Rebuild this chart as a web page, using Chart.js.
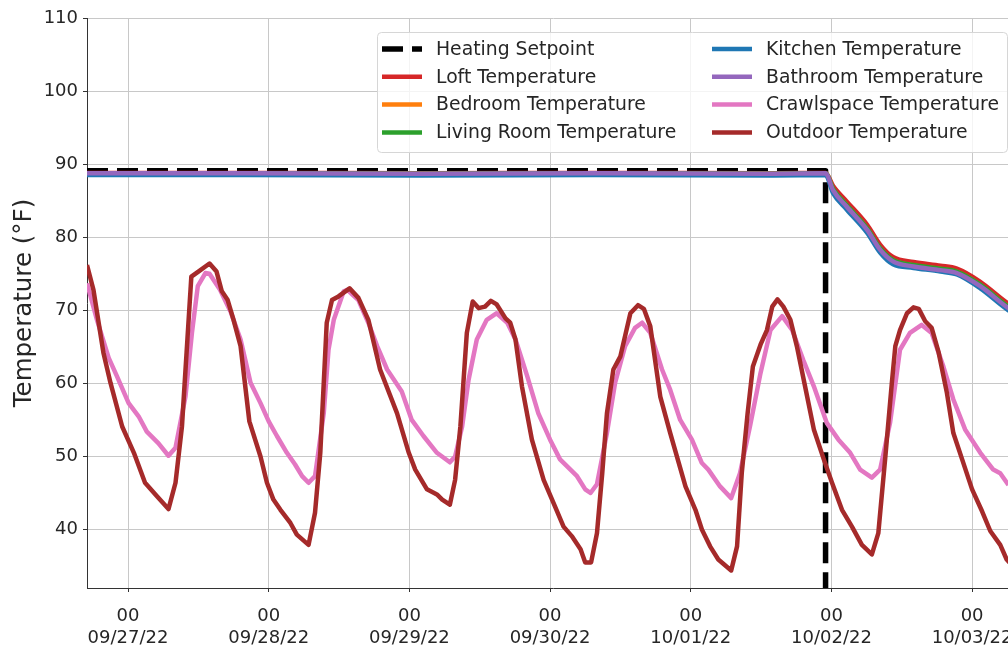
<!DOCTYPE html>
<html>
<head>
<meta charset="utf-8">
<script src="https://cdn.jsdelivr.net/npm/chart.js@4.4.1/dist/chart.umd.min.js"></script>
<style>
  html, body { margin: 0; padding: 0; background: #fff; overflow: hidden; width: 1008px; height: 647px; }
  #wrap { position: absolute; left: 0; top: 0; width: 1040px; height: 647px; }
</style>
</head>
<body>
<div id="wrap"><canvas id="myChart" width="1040" height="647"></canvas></div>
<script>
// x values are hours counted from 09/27/22 00:00
const tickHours = [0, 24, 48, 72, 96, 120, 144];
const tickDates = ['09/27/22', '09/28/22', '09/29/22', '09/30/22', '10/01/22', '10/02/22', '10/03/22'];
const yTicks = [40, 50, 60, 70, 80, 90, 100, 110];

const seriesNames = [
  'Heating Setpoint', 'Loft Temperature', 'Bedroom Temperature', 'Living Room Temperature',
  'Kitchen Temperature', 'Bathroom Temperature', 'Crawlspace Temperature', 'Outdoor Temperature'
];
const seriesColors = ['#000000', '#d62728', '#ff7f0e', '#2ca02c', '#1f77b4', '#9467bd', '#e377c2', '#a52a2a'];

// heating setpoint (turned off on 10/02)
const setpointHours = [-7, 119.0, 119.0, 152];
const setpointTemps = [89.1, 89.1, 20, 20];

// indoor rooms
const indoorHours = [-7, 20, 50, 80, 110, 119.0, 120.3, 122.6, 126.1, 128.3, 130.5, 134.0, 138.6, 141.4, 145.4, 150.2, 152];
const loftTemps     = [88.8, 88.8, 88.75, 88.8, 88.75, 88.8, 87.0, 84.9, 81.7, 79.0, 77.3, 76.6, 76.1, 75.7, 73.9, 70.9, 70.1];
const bedroomTemps  = [88.75, 88.75, 88.7, 88.75, 88.7, 88.75, 86.55, 84.35, 81.15, 78.45, 76.85, 76.15, 75.65, 75.25, 73.45, 70.45, 69.65];
const livingTemps   = [88.75, 88.75, 88.7, 88.75, 88.7, 88.75, 86.6, 84.4, 81.2, 78.5, 76.9, 76.2, 75.7, 75.3, 73.5, 70.5, 69.7];
const kitchenTemps  = [88.5, 88.5, 88.45, 88.5, 88.45, 88.5, 86.0, 83.8, 80.6, 77.9, 76.3, 75.8, 75.3, 74.9, 73.0, 70.0, 69.2];
const bathroomTemps = [88.75, 88.75, 88.7, 88.75, 88.7, 88.75, 86.4, 84.2, 81.0, 78.3, 76.7, 76.0, 75.5, 75.1, 73.3, 70.3, 69.5];

// crawlspace
const crawlHours = [-7.0, -5.3, -3.3, -1.9, 0.1, 1.8, 3.2, 5.2, 6.9, 8.1, 9.8, 10.9, 11.9, 13.2, 13.9, 15.7, 17.5, 19.2, 20.9, 22.6,
  24.0, 25.4, 27.1, 28.5, 29.7, 30.8, 31.9, 33.4, 34.2, 35.1, 36.8, 37.4, 39.3, 41.0, 42.5, 44.2, 46.7, 48.4, 50.4, 52.7,
  54.9, 55.8, 57.0, 58.1, 59.5, 61.2, 62.9, 64.7, 66.1, 68.1, 70.0, 72.0, 73.7, 76.6, 78.0, 78.9, 80.0, 81.7, 83.1, 84.8,
  86.5, 87.7, 89.1, 91.1, 92.5, 94.2, 96.2, 97.9, 99.0, 101.0, 102.9, 104.4, 106.1, 107.9, 109.6, 111.6, 113.3, 115.2, 117.0, 119.2,
  121.2, 123.2, 124.9, 126.9, 128.3, 130.0, 131.7, 133.4, 135.4, 137.1, 139.1, 140.8, 142.8, 145.4, 147.6, 148.8, 150.2];
const crawlTemps = [73.7, 68.7, 63.5, 61.0, 57.3, 55.5, 53.4, 51.8, 50.1, 51.2, 58.2, 66.9, 73.3, 75.1, 75.0, 72.8, 69.8, 66.0, 60.1, 57.3,
  54.8, 52.8, 50.5, 48.9, 47.3, 46.4, 47.3, 56.0, 64.6, 68.7, 72.6, 72.8, 71.4, 68.3, 65.1, 61.9, 58.9, 55.0, 52.8, 50.5,
  49.2, 50.0, 54.1, 60.5, 66.0, 68.7, 69.6, 68.3, 66.0, 61.0, 55.9, 52.3, 49.6, 47.3, 45.5, 45.0, 46.2, 53.2, 60.1, 65.1,
  67.6, 68.3, 66.9, 61.9, 59.1, 55.0, 52.3, 49.1, 48.2, 45.9, 44.3, 47.7, 54.1, 61.4, 67.3, 69.2, 67.3, 63.2, 59.6, 54.6,
  52.3, 50.5, 48.2, 47.1, 48.2, 54.6, 64.6, 66.9, 68.0, 66.9, 62.3, 57.8, 53.7, 50.5, 48.2, 47.7, 46.1];

// outdoor
const outdoorHours = [-7.0, -5.9, -4.2, -3.0, -1.0, 1.0, 2.9, 4.9, 6.9, 8.1, 9.2, 10.8, 12.0, 13.9, 15.1, 16.0, 17.0, 18.0, 19.2, 20.7,
  22.6, 23.7, 24.8, 26.0, 27.7, 28.8, 30.8, 31.9, 32.8, 33.9, 34.8, 35.9, 37.8, 39.3, 41.0, 43.0, 45.9, 47.9, 49.0, 51.0,
  52.7, 53.6, 54.9, 55.8, 56.7, 57.8, 58.8, 59.8, 60.9, 61.9, 62.9, 64.4, 65.2, 66.1, 67.2, 68.9, 70.9, 72.6, 74.3, 75.7,
  77.2, 78.0, 79.0, 80.0, 80.9, 81.7, 82.8, 84.0, 85.7, 87.0, 88.0, 89.1, 90.8, 92.5, 95.1, 96.8, 97.9, 99.3, 100.7, 102.9,
  103.9, 104.7, 105.7, 106.6, 107.9, 109.0, 109.9, 110.8, 111.8, 113.0, 114.1, 115.5, 117.0, 118.7, 120.1, 121.8, 123.5, 125.2, 126.9, 128.0,
  129.2, 130.3, 130.9, 131.7, 132.9, 134.0, 134.9, 136.0, 137.1, 138.3, 139.7, 140.8, 142.3, 144.0, 145.7, 147.1, 148.8, 149.9, 150.6];
const outdoorTemps = [76.2, 72.8, 64.2, 60.1, 54.1, 50.5, 46.4, 44.6, 42.8, 46.4, 54.1, 74.6, 75.3, 76.4, 75.3, 72.6, 71.4, 68.7, 65.1, 54.8,
  50.0, 46.4, 44.1, 42.7, 40.9, 39.3, 37.9, 42.3, 50.5, 68.3, 71.4, 71.9, 73.0, 71.7, 68.7, 61.9, 55.9, 50.5, 48.2, 45.5,
  44.8, 44.1, 43.4, 46.8, 54.1, 66.9, 71.2, 70.3, 70.5, 71.3, 70.8, 68.9, 68.3, 66.0, 59.6, 52.3, 46.8, 43.6, 40.4, 39.1,
  37.3, 35.5, 35.5, 39.5, 47.7, 55.9, 61.9, 63.7, 69.6, 70.7, 70.2, 67.8, 58.2, 53.2, 45.9, 42.7, 40.0, 37.7, 35.9, 34.4,
  37.7, 47.7, 55.9, 62.3, 65.3, 67.3, 70.5, 71.5, 70.5, 68.7, 65.1, 59.6, 53.7, 49.6, 46.4, 42.7, 40.4, 37.9, 36.6, 39.5,
  50.0, 60.0, 65.1, 67.3, 69.6, 70.4, 70.2, 68.5, 67.6, 64.2, 58.7, 53.2, 49.6, 45.5, 42.5, 39.8, 37.9, 35.9, 35.3];

const seriesHours = [setpointHours, indoorHours, indoorHours, indoorHours, indoorHours, indoorHours, crawlHours, outdoorHours];
const seriesTemps = [setpointTemps, loftTemps, bedroomTemps, livingTemps, kitchenTemps, bathroomTemps, crawlTemps, outdoorTemps];

Chart.defaults.font.family = "'DejaVu Sans', sans-serif";
Chart.defaults.color = '#262626';

const n = seriesNames.length;
const datasets = seriesNames.map((name, i) => ({
  label: name,
  data: seriesHours[i].map((h, k) => ({ x: h, y: seriesTemps[i][k] })),
  borderColor: seriesColors[i],
  backgroundColor: seriesColors[i],
  borderWidth: i === 0 ? 5.5 : 4.5,
  borderDash: i === 0 ? [21, 9] : [],
  borderCapStyle: 'butt',
  borderJoinStyle: 'round',
  pointRadius: 0,
  // the indoor sensors cool off smoothly, let the library round them
  cubicInterpolationMode: (i >= 1 && i <= 5) ? 'monotone' : 'default',
  tension: 0,
  fill: false,
  order: n - i   // later series are drawn on top, like matplotlib
}));

// legend in two columns inside the plot, drawn by hand
const boxLegend = {
  id: 'boxLegend',
  afterDraw(chart) {
    const ctx = chart.ctx;
    const a = chart.chartArea;
    const bx = a.left + 290, by = a.top + 14, bw = 630, bh = 120, r = 4;
    ctx.save();
    ctx.beginPath();
    ctx.roundRect(bx + 0.5, by + 0.5, bw, bh, r);
    ctx.fillStyle = 'rgba(255,255,255,0.8)';
    ctx.fill();
    ctx.strokeStyle = '#d6d6d6';
    ctx.lineWidth = 1;
    ctx.stroke();

    ctx.font = "18.8px 'DejaVu Sans', sans-serif";
    ctx.textBaseline = 'middle';
    ctx.fillStyle = '#262626';
    datasets.forEach((ds, i) => {
      const col = Math.floor(i / 4), row = i % 4;
      const hx = bx + 5 + col * 330;
      const ty = by + 17 + row * 27.8;
      ctx.beginPath();
      ctx.setLineDash(ds.borderDash);
      ctx.lineCap = 'butt';
      ctx.strokeStyle = ds.borderColor;
      ctx.lineWidth = ds.borderWidth;
      ctx.moveTo(hx, ty);
      ctx.lineTo(hx + 40, ty);
      ctx.stroke();
      ctx.setLineDash([]);
      ctx.fillText(ds.label, hx + 54, ty + 1);
    });
    ctx.restore();
  }
};

const config = {
  type: 'line',
  data: { datasets: datasets },
  options: {
    responsive: false,
    animation: false,
    devicePixelRatio: 1,
    layout: { padding: { left: 0, top: 18, right: 21, bottom: 0 } },
    plugins: { legend: { display: false }, tooltip: { enabled: false } },
    scales: {
      x: {
        type: 'linear',
        min: -7,
        max: 152,
        afterBuildTicks: s => { s.ticks = tickHours.map(v => ({ value: v })); },
        afterFit: s => { s.height = 59; },
        ticks: {
          font: { size: 18 },
          color: '#262626',
          maxRotation: 0,
          autoSkip: false,
          padding: 14,
          callback: (v, idx) => ['00', tickDates[idx]]
        },
        grid: { color: '#c8c8c8', lineWidth: 1, tickLength: 4, tickColor: '#333' },
        border: { color: '#333', width: 1 }
      },
      y: {
        min: 32,
        max: 110,
        afterBuildTicks: s => { s.ticks = yTicks.map(v => ({ value: v })); },
        afterFit: s => { s.width = 87; },
        ticks: { font: { size: 18 }, color: '#262626', padding: 5 },
        title: {
          display: true,
          text: 'Temperature (°F)',
          font: { size: 24.5 },
          color: '#262626',
          padding: { top: 10, bottom: 0 }
        },
        grid: { color: '#c8c8c8', lineWidth: 1, tickLength: 4, tickColor: '#333' },
        border: { color: '#333', width: 1 }
      }
    }
  },
  plugins: [boxLegend]
};

const myChart = new Chart(document.getElementById('myChart'), config);
</script>
</body>
</html>
